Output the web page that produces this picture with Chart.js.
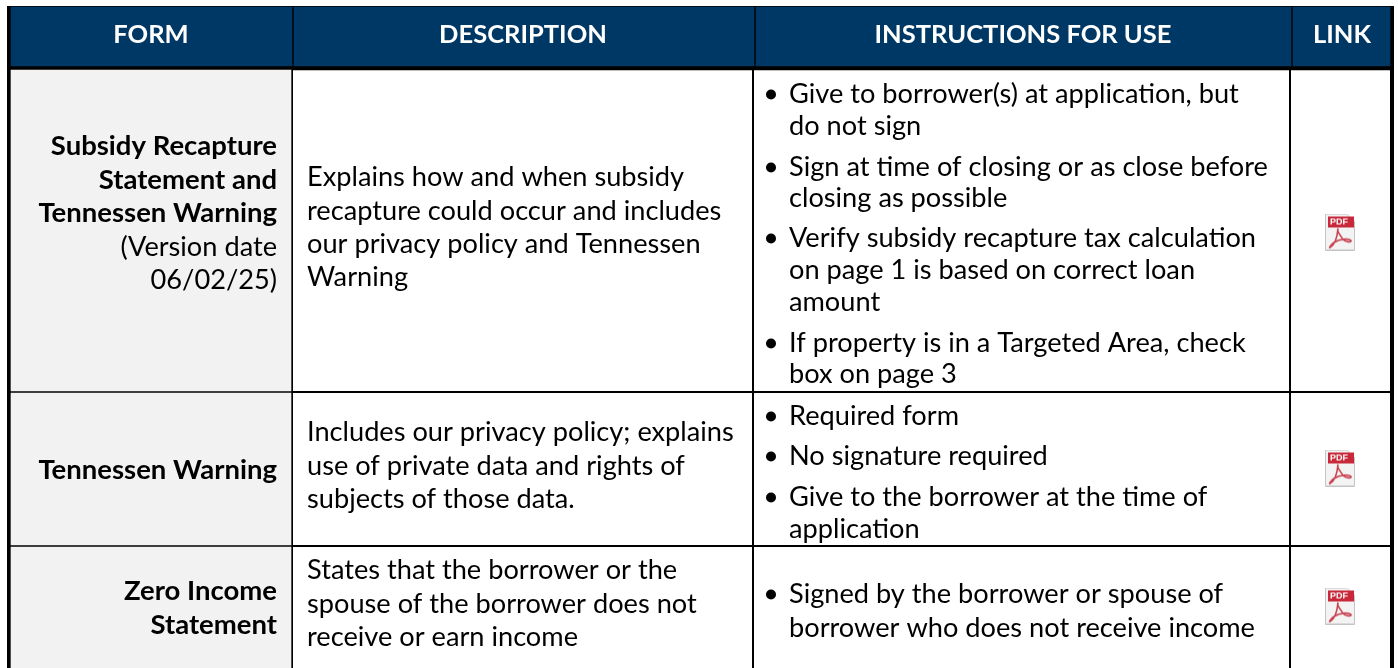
<!DOCTYPE html>
<html>
<head>
<meta charset="utf-8">
<title>Forms</title>
<style>
  html, body { margin: 0; padding: 0; background: #fff; }
  canvas { display: block; }
</style>
<script src="https://cdn.jsdelivr.net/npm/chart.js@4"></script>
</head>
<body>
<canvas id="myChart" width="1398" height="668"></canvas>
<script>
const headers = ['FORM', 'DESCRIPTION', 'INSTRUCTIONS FOR USE', 'LINK'];

const forms = [
  [['Subsidy Recapture', true], ['Statement and', true], ['Tennessen Warning', true], ['(Version date', false], ['06/02/25)', false]],
  [['Tennessen Warning', true]],
  [['Zero Income', true], ['Statement', true]],
];

const descriptions = [
  ['Explains how and when subsidy', 'recapture could occur and includes', 'our privacy policy and Tennessen', 'Warning'],
  ['Includes our privacy policy; explains', 'use of private data and rights of', 'subjects of those data.'],
  ['States that the borrower or the', 'spouse of the borrower does not', 'receive or earn income'],
];

const instructions = [
  [
    ['Give to borrower(s) at application, but', 'do not sign'],
    ['Sign at time of closing or as close before', 'closing as possible'],
    ['Verify subsidy recapture tax calculation', 'on page 1 is based on correct loan', 'amount'],
    ['If property is in a Targeted Area, check', 'box on page 3'],
  ],
  [
    ['Required form'],
    ['No signature required'],
    ['Give to the borrower at the time of', 'application'],
  ],
  [
    ['Signed by the borrower or spouse of', 'borrower who does not receive income'],
  ],
];

// layout, in page pixels (both axes run 1:1 with the canvas)
const frame = { left: 7, right: 1394, top: 6, bottom: 668 };
const vRules = [[9, 4], [292, 2], [753, 2], [1290, 2], [1392, 4]];
const hRules = [[6.5, 1], [68, 4], [392, 2], [546, 2]];
const headerCols = [[11, 292], [294, 754], [756, 1291], [1293, 1390]];
const headerCenters = [151, 523, 1023, 1342];
const bodyRows = [[70, 391], [393, 545], [547, 668]];
const iconSpots = [{ x: 1340, y: 232 }, { x: 1340, y: 468 }, { x: 1340, y: 606 }];
const formBase = [[155, 189, 222, 256, 289], [479], [600, 634]];
const descBase = [[186, 220, 253, 286], [441, 475, 508], [579, 613, 646]];
const instrBase = [
  [[103, 135], [176, 207], [247, 279, 311], [352, 383]],
  [[425], [465], [506, 538]],
  [[603, 637]],
];

const NAVY = '#003865';
const GREY = '#f2f2f2';
const FONT = 'Lato';
const BODY_SIZE = 27.2;
const BOLD_SIZE = 27.5;
const HEAD_SIZE = 25.5;

function pdfIcon() {
  const c = document.createElement('canvas');
  c.width = 30;
  c.height = 37;
  const g = c.getContext('2d');
  // page
  g.fillStyle = '#f3f3f3';
  g.strokeStyle = '#c4c4c4';
  g.lineWidth = 1;
  g.beginPath();
  g.moveTo(0.5, 0.5);
  g.lineTo(22, 0.5);
  g.lineTo(29.5, 8);
  g.lineTo(29.5, 36.5);
  g.lineTo(0.5, 36.5);
  g.closePath();
  g.fill();
  g.stroke();
  // red band
  g.fillStyle = '#c8283a';
  g.fillRect(3, 3, 26, 11);
  g.fillStyle = '#fff';
  g.font = 'bold 9px "Liberation Sans"';
  g.textAlign = 'center';
  g.textBaseline = 'middle';
  g.fillText('PDF', 14, 9);
  // acrobat swirl
  g.strokeStyle = '#c8404f';
  g.lineWidth = 1.6;
  g.beginPath();
  g.moveTo(13, 15);
  g.bezierCurveTo(11, 18, 16, 22, 18, 26);
  g.bezierCurveTo(21, 29, 27, 29, 26, 27);
  g.bezierCurveTo(24, 25, 15, 25, 9, 29);
  g.bezierCurveTo(5, 32, 4, 35, 5, 34);
  g.bezierCurveTo(9, 32, 12, 26, 13, 15);
  g.stroke();
  return c;
}

function barCell(x, y, color, order) {
  return {
    type: 'bar',
    indexAxis: 'y',
    grouped: false,
    data: [{ x: x, y: (y[0] + y[1]) / 2 }],
    barThickness: y[1] - y[0],
    backgroundColor: color,
    borderWidth: 0,
    order: order,
  };
}

const tablePlugin = {
  id: 'tableText',
  afterDatasetsDraw(chart) {
    const { ctx, scales } = chart;
    const px = (v) => scales.x.getPixelForValue(v);
    const py = (v) => scales.y.getPixelForValue(v);
    ctx.save();
    ctx.textBaseline = 'alphabetic';

    /* header */
    ctx.fillStyle = '#fff';
    ctx.textAlign = 'center';
    ctx.font = `bold ${HEAD_SIZE}px ${FONT}`;
    headers.forEach((h, i) => ctx.fillText(h, px(headerCenters[i]), py(43)));

    ctx.fillStyle = '#000';

    /* first column, right aligned */
    ctx.textAlign = 'right';
    forms.forEach((lines, r) => {
      lines.forEach(([text, bold], l) => {
        ctx.font = bold ? `bold ${BOLD_SIZE}px ${FONT}` : `${BODY_SIZE}px ${FONT}`;
        ctx.fillText(text, px(277), py(formBase[r][l]));
      });
    });

    /* description */
    ctx.textAlign = 'left';
    ctx.font = `${BODY_SIZE}px ${FONT}`;
    descriptions.forEach((lines, r) => {
      lines.forEach((text, l) => ctx.fillText(text, px(307), py(descBase[r][l])));
    });

    /* instructions with bullets */
    instructions.forEach((items, r) => {
      items.forEach((lines, b) => {
        ctx.beginPath();
        ctx.arc(px(771), py(instrBase[r][b][0] - 8.5), 5, 0, Math.PI * 2);
        ctx.fill();
        lines.forEach((text, l) => ctx.fillText(text, px(789), py(instrBase[r][b][l])));
      });
    });
    ctx.restore();
  },
};

function ruleAxis(min, max, rules, reverse) {
  return {
    type: 'linear',
    reverse: reverse,
    min: min,
    max: max,
    offset: false,
    beginAtZero: false,
    afterBuildTicks(scale) {
      scale.ticks = rules.map((r) => ({ value: r[0] }));
    },
    afterFit(scale) {
      if (scale.isHorizontal()) scale.height = 0;
      else scale.width = 0;
    },
    border: { display: false },
    ticks: { display: false, autoSkip: false },
    grid: {
      offset: false,
      color: '#000',
      drawTicks: false,
      lineWidth: (c) => (c.tick && rules[c.index] ? rules[c.index][1] : 0),
    },
  };
}

const ctx = document.getElementById('myChart');

new Chart(ctx, {
  data: {
    datasets: [
      barCell([frame.left, frame.right], [frame.top, 70], '#000', 3),
      ...headerCols.map((x) => barCell(x, [7, 66], NAVY, 2)),
      ...bodyRows.map((y) => barCell([11, 291], y, GREY, 2)),
      {
        type: 'scatter',
        data: iconSpots,
        pointStyle: pdfIcon(),
        order: 1,
      },
    ],
  },
  options: {
    responsive: false,
    animation: false,
    layout: {
      autoPadding: false,
      padding: { left: frame.left, right: 1398 - frame.right, top: frame.top, bottom: 668 - frame.bottom },
    },
    plugins: { legend: { display: false }, tooltip: { enabled: false } },
    scales: {
      x: ruleAxis(frame.left, frame.right, vRules, false),
      y: ruleAxis(frame.top, frame.bottom, hRules, true),
    },
  },
  plugins: [tablePlugin],
});
</script>
</body>
</html>
